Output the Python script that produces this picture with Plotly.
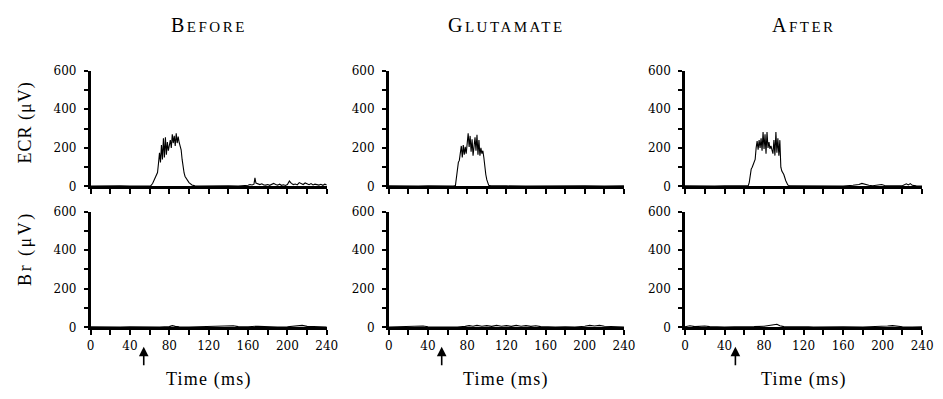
import plotly.graph_objects as go

# ---------------- data ----------------
conditions = ["BEFORE", "GLUTAMATE", "AFTER"]
stim_times = [54, 54, 51]  # arrow marking the stimulus (ms)

ecr_before = [(0, 2), (10, 3), (20, 2), (30, 3), (40, 2), (50, 3), (58, 2), (61, 3), (63, 15), (65, 35), (67, 60),
              (68, 72), (69, 120), (70, 175), (71, 125), (72, 215), (73, 140), (74, 250), (75, 150), (76, 255),
              (77, 165), (78, 230), (79, 185), (80, 215), (81, 240), (82, 200), (83, 270), (84, 225), (85, 262),
              (86, 210), (87, 275), (88, 225), (89, 258), (90, 228), (91, 205), (92, 190), (93, 140), (94, 100),
              (95, 70), (96, 52), (98, 35), (100, 20), (103, 8), (106, 3), (110, 2), (120, 3), (130, 2), (140, 3),
              (150, 2), (158, 3), (160, 6), (162, 10), (164, 8), (166, 12), (167, 45), (168, 18), (170, 12),
              (172, 10), (174, 14), (176, 8), (178, 7), (180, 10), (182, 6), (184, 9), (186, 16), (188, 10),
              (190, 7), (192, 12), (194, 6), (196, 9), (198, 5), (200, 10), (202, 28), (204, 16), (206, 10),
              (208, 13), (210, 8), (212, 20), (214, 14), (216, 10), (218, 18), (220, 12), (222, 9), (224, 15),
              (226, 8), (228, 12), (230, 10), (232, 7), (234, 11), (236, 6), (238, 12), (240, 8)]

ecr_glutamate = [(0, 3), (10, 2), (20, 3), (30, 2), (40, 3), (50, 2), (60, 3), (66, 2), (68, 5), (69, 45), (70, 100),
                 (71, 125), (72, 135), (73, 165), (74, 210), (75, 150), (76, 215), (77, 165), (78, 205), (79, 170),
                 (80, 235), (81, 275), (82, 205), (83, 262), (84, 180), (85, 245), (86, 160), (87, 225), (88, 255),
                 (89, 185), (90, 268), (91, 165), (92, 240), (93, 160), (94, 200), (95, 170), (96, 185), (97, 150),
                 (98, 90), (99, 62), (100, 35), (101, 15), (102, 6), (104, 3), (110, 2), (120, 3), (140, 2),
                 (160, 3), (180, 2), (200, 3), (220, 2), (240, 3)]

ecr_after = [(0, 3), (10, 2), (20, 3), (30, 2), (40, 3), (50, 2), (60, 3), (64, 4), (65, 20), (66, 60), (67, 90),
             (68, 100), (69, 115), (70, 125), (71, 140), (72, 200), (73, 235), (74, 190), (75, 240), (76, 200),
             (77, 250), (78, 185), (79, 282), (80, 195), (81, 270), (82, 170), (83, 282), (84, 200), (85, 230),
             (86, 195), (87, 210), (88, 190), (89, 170), (90, 240), (91, 160), (92, 282), (93, 175), (94, 250),
             (95, 160), (96, 240), (97, 100), (98, 80), (100, 62), (102, 30), (104, 8), (106, 3), (120, 2),
             (140, 3), (160, 2), (170, 6), (176, 10), (179, 16), (182, 10), (186, 6), (190, 4), (196, 6),
             (199, 10), (202, 5), (210, 3), (220, 4), (224, 14), (226, 8), (228, 15), (230, 6), (234, 3), (240, 2)]

br_before = [(0, 3), (10, 2), (20, 3), (30, 2), (40, 3), (50, 2), (60, 3), (70, 2), (80, 4), (83, 9), (86, 5),
             (90, 3), (100, 2), (110, 3), (120, 2), (130, 3), (140, 5), (145, 8), (150, 4), (160, 3), (170, 6),
             (175, 5), (180, 3), (190, 2), (200, 3), (210, 6), (215, 10), (220, 5), (230, 3), (240, 2)]

br_glutamate = [(0, 2), (10, 3), (20, 2), (30, 4), (35, 7), (40, 3), (50, 2), (60, 3), (70, 2), (78, 5), (82, 9),
                (86, 6), (90, 10), (95, 6), (100, 9), (105, 5), (110, 10), (115, 6), (120, 9), (125, 5), (130, 10),
                (135, 6), (140, 9), (145, 5), (150, 8), (155, 4), (160, 3), (170, 2), (180, 3), (190, 2), (200, 6),
                (205, 10), (210, 7), (215, 10), (220, 6), (230, 3), (240, 2)]

br_after = [(0, 3), (5, 8), (10, 4), (20, 7), (25, 4), (30, 3), (40, 2), (50, 3), (60, 2), (70, 4), (80, 6), (85, 9),
            (90, 12), (93, 16), (96, 8), (100, 4), (110, 3), (120, 5), (125, 3), (130, 2), (140, 3), (150, 2),
            (160, 3), (180, 2), (200, 4), (205, 7), (210, 9), (215, 6), (220, 3), (230, 2), (240, 3)]

x_ticks = list(range(0, 241, 20))
x_labels = [str(v) if v % 40 == 0 else "" for v in x_ticks]
y_ticks = list(range(0, 601, 100))
y_labels = [str(v) if v % 200 == 0 else "" for v in y_ticks]
row_titles = ["ECR (\u03bcV)", "Br (\u03bcV)"]
x_title = "Time (ms)"

series = [ecr_before, ecr_glutamate, ecr_after, br_before, br_glutamate, br_after]

# ---------------- layout geometry (pixels) ----------------
W, H = 943, 399
def fx(p):
    return p / W
def fy(p):
    return 1 - p / H

col_px = [(88, 328), (391, 630), (692, 933)]
row_px = [(66, 186), (212, 332)]

SERIF = "Liberation Serif, Times New Roman, serif"
TICKFONT = dict(family="DejaVu Serif, serif", size=12, color="black")

fig = go.Figure()
layout = dict(
    width=W, height=H, margin=dict(l=0, r=0, t=0, b=0),
    paper_bgcolor="white", plot_bgcolor="white", showlegend=False,
)

for i, data in enumerate(series):
    r, c = divmod(i, 3)
    n = "" if i == 0 else str(i + 1)
    t = [p[0] for p in data]
    v = [p[1] for p in data]
    fig.add_trace(go.Scatter(x=t, y=v, mode="lines", xaxis="x" + n, yaxis="y" + n,
                             line=dict(color="black", width=1.1), hoverinfo="skip"))
    x0, x1 = col_px[c]
    ytop, ybot = row_px[r]
    layout["xaxis" + n] = dict(
        domain=[fx(x0), fx(x1)], anchor="y" + n, range=[0, 240],
        showline=True, linewidth=2.5, linecolor="black", mirror=False,
        ticks="outside", ticklen=5, tickwidth=2, tickcolor="black",
        tickvals=x_ticks, ticktext=x_labels, showticklabels=(r == 1),
        tickfont=TICKFONT, showgrid=False, zeroline=False, fixedrange=True,
    )
    layout["yaxis" + n] = dict(
        domain=[fy(ybot), fy(ytop)], anchor="x" + n, range=[0, 600],
        showline=True, linewidth=2.5, linecolor="black",
        ticks="outside", ticklen=4, tickwidth=2, tickcolor="black",
        tickvals=y_ticks, ticktext=y_labels, ticklabelstandoff=5,
        tickfont=TICKFONT, showgrid=False, zeroline=False, fixedrange=True,
    )

annotations = []
# column titles in small caps
for c, name in enumerate(conditions):
    cx = (col_px[c][0] + col_px[c][1]) / 2
    txt = ('<span style="letter-spacing:2.5px">' + name[0] + '</span>'
           '<span style="font-size:15px;letter-spacing:2.5px">' + name[1:] + '</span>')
    annotations.append(dict(x=fx(cx), y=fy(19), xref="paper", yref="paper", text=txt,
                            showarrow=False, xanchor="center", yanchor="middle",
                            font=dict(family=SERIF, size=20, color="black")))
    # x-axis title
    annotations.append(dict(x=fx(cx), y=fy(386), xref="paper", yref="paper",
                            text='<span style="letter-spacing:1.2px">' + x_title + '</span>',
                            showarrow=False, xanchor="center", yanchor="middle",
                            font=dict(family=SERIF, size=18, color="black")))
    # stimulus arrow
    n = str(c + 4)
    annotations.append(dict(x=stim_times[c], y=fy(352), xref="x" + n, yref="paper", text="",
                            showarrow=True, ax=0, ay=20, arrowhead=2, arrowsize=1.2,
                            arrowwidth=1.6, arrowcolor="black", standoff=0))

# row (y-axis) titles
for r, (title, cy, sp) in enumerate(zip(row_titles, [120, 250], [1, 2.5])):
    annotations.append(dict(x=fx(22), y=fy(cy), xref="paper", yref="paper",
                            text='<span style="letter-spacing:%spx">' % sp + title + '</span>',
                            textangle=-90, showarrow=False, xanchor="center", yanchor="middle",
                            font=dict(family=SERIF, size=18, color="black")))

layout["annotations"] = annotations
fig.update_layout(**layout)
fig.write_html("out.html")
